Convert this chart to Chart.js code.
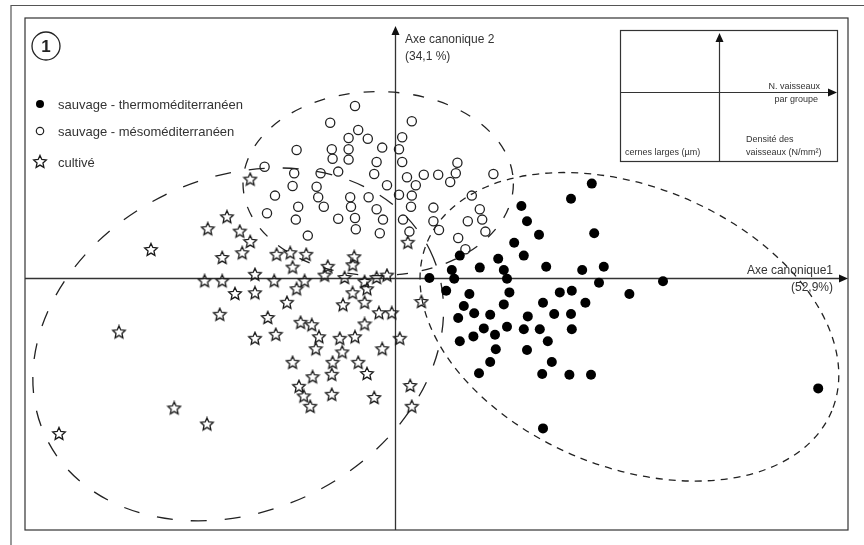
<!DOCTYPE html>
<html>
<head>
  <meta charset="utf-8">
  <script src="https://cdn.jsdelivr.net/npm/chart.js@4.4.1/dist/chart.umd.min.js"></script>
  <style>
    body { margin: 0; background: #fff; }
    #wrap { position: relative; width: 864px; height: 545px; }
  </style>
</head>
<body>
<div id="wrap"><canvas id="cva"></canvas></div>

<script type="text/javascript">
// canonical scores, [axe 1, axe 2]
const thermoPts = [
  [2.46,1.18],[2.20,0.99],[1.58,0.90],[1.65,0.71],[1.80,0.54],[2.49,0.56],[1.49,0.44],[1.61,0.28],
  [0.81,0.28],[1.29,0.24],[0.71,0.10],[1.06,0.13],[1.36,0.10],[1.89,0.14],[2.34,0.10],[2.61,0.14],
  [0.43,0.00],[0.74,-0.01],[1.40,-0.01],[2.55,-0.06],[0.64,-0.16],[0.93,-0.20],[1.43,-0.18],[2.06,-0.18],
  [2.21,-0.16],[2.93,-0.20],[0.86,-0.35],[1.36,-0.33],[1.85,-0.31],[2.38,-0.31],[3.35,-0.04],[0.79,-0.50],
  [0.99,-0.44],[1.19,-0.46],[1.66,-0.48],[1.99,-0.45],[2.20,-0.45],[1.11,-0.63],[1.40,-0.61],[1.61,-0.64],
  [1.81,-0.64],[2.21,-0.64],[0.81,-0.79],[0.98,-0.73],[1.25,-0.71],[1.91,-0.79],[1.26,-0.89],[1.65,-0.90],
  [1.19,-1.05],[1.96,-1.05],[1.05,-1.19],[1.84,-1.20],[2.18,-1.21],[2.45,-1.21],[1.85,-1.88],[5.29,-1.38]
];
const mesoPts = [
  [-0.50,2.15],[-0.81,1.94],[0.21,1.96],[-0.46,1.85],[-0.58,1.75],[-0.34,1.74],[0.09,1.76],[-1.23,1.60],
  [-0.79,1.61],[-0.58,1.61],[-0.16,1.63],[0.05,1.61],[-0.78,1.49],[-0.58,1.48],[-0.23,1.45],[0.09,1.45],
  [-1.63,1.39],[-1.26,1.31],[-0.93,1.31],[-0.71,1.33],[-0.26,1.30],[0.15,1.26],[0.26,1.16],[-1.28,1.15],
  [-0.98,1.14],[-0.10,1.16],[-1.50,1.03],[-0.96,1.01],[-0.56,1.01],[-0.33,1.01],[0.05,1.04],[0.21,1.03],
  [-1.21,0.89],[-0.89,0.89],[-0.55,0.89],[-0.23,0.86],[0.20,0.89],[-1.60,0.81],[-1.24,0.73],[-0.71,0.74],
  [-0.50,0.75],[-0.15,0.73],[0.10,0.73],[-0.49,0.61],[-0.19,0.56],[0.18,0.58],[-1.09,0.53],[0.78,1.44],
  [0.36,1.29],[0.54,1.29],[0.76,1.31],[0.69,1.20],[1.23,1.30],[0.96,1.03],[0.48,0.88],[1.06,0.86],
  [0.48,0.71],[0.91,0.71],[1.09,0.73],[0.55,0.60],[1.13,0.58],[0.79,0.50],[0.88,0.36]
];
const cultivePts = [
  [-3.05,0.35],[-2.34,0.61],[-1.81,1.23],[-2.10,0.76],[-1.94,0.58],[-1.81,0.45],[-1.91,0.31],[-2.16,0.25],
  [-1.48,0.29],[-1.31,0.31],[-1.11,0.29],[-1.28,0.13],[-0.51,0.26],[-0.53,0.16],[-0.84,0.14],[0.16,0.44],
  [0.33,-0.30],[-2.38,-0.04],[-2.16,-0.04],[-1.75,0.04],[-1.51,-0.04],[-1.13,-0.04],[-0.88,0.03],[-0.63,0.00],
  [-0.38,-0.05],[-0.23,0.00],[-0.10,0.03],[-1.23,-0.14],[-2.00,-0.20],[-1.75,-0.19],[-0.53,-0.19],[-0.35,-0.14],
  [-1.35,-0.31],[-0.65,-0.34],[-0.38,-0.31],[-2.19,-0.46],[-1.59,-0.50],[-1.18,-0.56],[-1.04,-0.59],[-0.20,-0.44],
  [-0.04,-0.44],[-0.38,-0.58],[-1.75,-0.76],[-1.49,-0.71],[-0.95,-0.74],[-0.69,-0.76],[-0.50,-0.74],[0.06,-0.76],
  [-0.99,-0.89],[-0.66,-0.93],[-0.16,-0.89],[-1.28,-1.06],[-0.78,-1.06],[-0.46,-1.06],[-1.03,-1.24],[-0.79,-1.21],
  [-0.35,-1.20],[-1.20,-1.36],[-1.14,-1.48],[-0.79,-1.46],[-1.06,-1.61],[-0.26,-1.50],[0.19,-1.35],[0.21,-1.61],
  [-3.45,-0.68],[-2.76,-1.63],[-2.35,-1.83],[-4.20,-1.95]
];

// groupe ellipses: [centre x, centre y, demi-axe a, demi-axe b, angle deg]
const ellCultive = [-1.96, -0.83, 2.67, 2.08, 26];
const ellMeso = [-0.21, 1.18, 1.69, 1.15, 0];
const ellThermo = [2.93, -0.61, 2.74, 1.75, -22.6];

const seriesNames = ['sauvage - thermoméditerranéen', 'sauvage - mésoméditerranéen', 'cultivé'];
const axisLabels = ['Axe canonique1', '(52,9%)', 'Axe canonique 2', '(34,1 %)'];

const FONT = '"Liberation Sans", Arial, sans-serif';

function makeStar() {
  let c = document.createElement('canvas');
  c.width = 16; c.height = 16;
  let g = c.getContext('2d');
  g.beginPath();
  for (let i = 0; i < 10; i++) {
    let r = i % 2 == 0 ? 6.6 : 3.1;
    let ang = -Math.PI / 2 + i * Math.PI / 5;
    let px = 8 + r * Math.cos(ang), py = 8 + r * Math.sin(ang);
    if (i == 0) g.moveTo(px, py); else g.lineTo(px, py);
  }
  g.closePath();
  g.lineWidth = 1.3;
  g.strokeStyle = '#1a1a1a';
  g.stroke();
  return c;
}
const starImg = makeStar();

function toXY(arr) {
  return arr.map(p => ({x: p[0], y: p[1]}));
}

function drawEllipse(ctx, xs, ys, e, dash) {
  let cx = xs.getPixelForValue(e[0]);
  let cy = ys.getPixelForValue(e[1]);
  let ux = xs.getPixelForValue(1) - xs.getPixelForValue(0);
  let uy = ys.getPixelForValue(0) - ys.getPixelForValue(1);
  ctx.save();
  ctx.beginPath();
  ctx.ellipse(cx, cy, e[2] * ux, e[3] * uy, -e[4] * Math.PI / 180, 0, 2 * Math.PI);
  ctx.setLineDash(dash);
  ctx.lineWidth = 1.3;
  ctx.strokeStyle = '#222';
  ctx.stroke();
  ctx.restore();
}

function arrowHead(ctx, x, y, dir) {
  // dir: 'up' or 'right'
  ctx.beginPath();
  if (dir == 'up') {
    ctx.moveTo(x, y); ctx.lineTo(x - 4, y + 9); ctx.lineTo(x + 4, y + 9);
  } else {
    ctx.moveTo(x, y); ctx.lineTo(x - 9, y - 4); ctx.lineTo(x - 9, y + 4);
  }
  ctx.closePath();
  ctx.fill();
}

const decor = {
  id: 'decor',
  beforeDatasetsDraw(chart) {
    const ctx = chart.ctx;
    const a = chart.chartArea;
    const xs = chart.scales.x, ys = chart.scales.y;
    ctx.save();
    // outer frame
    ctx.strokeStyle = '#555';
    ctx.lineWidth = 1.2;
    ctx.beginPath();
    ctx.moveTo(11, 560); ctx.lineTo(11, 5.5); ctx.lineTo(870, 5.5);
    ctx.stroke();
    // inner frame
    ctx.strokeStyle = '#333';
    ctx.strokeRect(a.left, a.top, a.right - a.left, a.bottom - a.top);

    // axes
    let x0 = Math.round(xs.getPixelForValue(0)) + 0.5;
    let y0 = Math.round(ys.getPixelForValue(0)) + 0.5;
    ctx.fillStyle = '#111';
    ctx.lineWidth = 1.3;
    ctx.beginPath();
    ctx.moveTo(a.left, y0); ctx.lineTo(a.right - 4, y0);
    ctx.moveTo(x0, a.bottom); ctx.lineTo(x0, a.top + 12);
    ctx.stroke();
    arrowHead(ctx, a.right, y0, 'right');
    arrowHead(ctx, x0, a.top + 8, 'up');

    drawEllipse(ctx, xs, ys, ellCultive, [16, 18]);
    drawEllipse(ctx, xs, ys, ellMeso, [11, 14]);
    drawEllipse(ctx, xs, ys, ellThermo, [7, 6]);
    ctx.restore();
  },
  afterDatasetsDraw(chart) {
    const ctx = chart.ctx;
    const a = chart.chartArea;
    const xs = chart.scales.x, ys = chart.scales.y;
    let x0 = xs.getPixelForValue(0), y0 = ys.getPixelForValue(0);
    ctx.save();
    ctx.fillStyle = '#333';
    ctx.textBaseline = 'alphabetic';

    // axis titles
    ctx.font = '12px ' + FONT;
    ctx.textAlign = 'left';
    ctx.fillText(axisLabels[2], x0 + 10, 43);
    ctx.fillText(axisLabels[3], x0 + 10, 60);
    ctx.textAlign = 'right';
    ctx.fillText(axisLabels[0], a.right - 15, y0 - 4);
    ctx.fillText(axisLabels[1], a.right - 15, y0 + 13);

    // panel number
    ctx.lineWidth = 1.3;
    ctx.strokeStyle = '#222';
    ctx.beginPath();
    ctx.arc(46, 46, 14, 0, 2 * Math.PI);
    ctx.stroke();
    ctx.font = 'bold 17px ' + FONT;
    ctx.textAlign = 'center';
    ctx.fillStyle = '#222';
    ctx.fillText('1', 46, 52);

    // legend
    ctx.font = '13px ' + FONT;
    ctx.textAlign = 'left';
    let ly = [104, 131, 162];
    ctx.fillStyle = '#000';
    ctx.beginPath(); ctx.arc(40, ly[0], 4, 0, 2 * Math.PI); ctx.fill();
    ctx.lineWidth = 1.2;
    ctx.beginPath(); ctx.arc(40, ly[1], 3.7, 0, 2 * Math.PI); ctx.stroke();
    ctx.drawImage(starImg, 32, ly[2] - 8);
    ctx.fillStyle = '#333';
    for (let i = 0; i < 3; i++) ctx.fillText(seriesNames[i], 58, ly[i] + 5);

    // inset: variable directions
    let bx = 620, by = 30, bw = 217, bh = 131;
    ctx.fillStyle = '#fff';
    ctx.fillRect(bx, by, bw, bh);
    ctx.strokeStyle = '#333';
    ctx.lineWidth = 1.2;
    ctx.strokeRect(bx + 0.5, by + 0.5, bw, bh);
    ctx.fillStyle = '#111';
    ctx.beginPath();
    ctx.moveTo(bx, 92.5); ctx.lineTo(bx + bw - 4, 92.5);
    ctx.moveTo(719.5, by + bh); ctx.lineTo(719.5, by + 12);
    ctx.stroke();
    arrowHead(ctx, bx + bw, 92.5, 'right');
    arrowHead(ctx, 719.5, by + 3, 'up');
    ctx.fillStyle = '#333';
    ctx.font = '9px ' + FONT;
    ctx.textAlign = 'right';
    ctx.fillText('N. vaisseaux', 820, 89);
    ctx.fillText('par groupe', 818, 102);
    ctx.textAlign = 'left';
    ctx.fillText('cernes larges (µm)', 625, 155);
    ctx.fillText('Densité des', 746, 142);
    ctx.fillText('vaisseaux (N/mm²)', 746, 155);
    ctx.restore();
  }
};

let chart = new Chart(document.getElementById('cva').getContext('2d'), {
  type: 'scatter',
  data: {
    datasets: [
      {
        label: seriesNames[0],
        data: toXY(thermoPts),
        pointStyle: 'circle',
        pointRadius: 5,
        backgroundColor: '#000',
        borderColor: '#000',
        borderWidth: 0
      },
      {
        label: seriesNames[1],
        data: toXY(mesoPts),
        pointStyle: 'circle',
        pointRadius: 4.6,
        backgroundColor: 'rgba(255,255,255,0)',
        borderColor: '#222',
        borderWidth: 1.3
      },
      {
        label: seriesNames[2],
        data: toXY(cultivePts),
        pointStyle: starImg,
        pointRadius: 7
      }
    ]
  },
  options: {
    responsive: true,
    maintainAspectRatio: false,
    animation: false,
    layout: { padding: { left: 25, right: 16, top: 18, bottom: 15 } },
    scales: {
      x: { type: 'linear', min: -4.625, max: 5.6625, display: false },
      y: { type: 'linear', min: -3.15, max: 3.25, display: false }
    },
    plugins: {
      legend: { display: false },
      tooltip: { enabled: false }
    }
  },
  plugins: [decor]
});
</script>
</body>
</html>
